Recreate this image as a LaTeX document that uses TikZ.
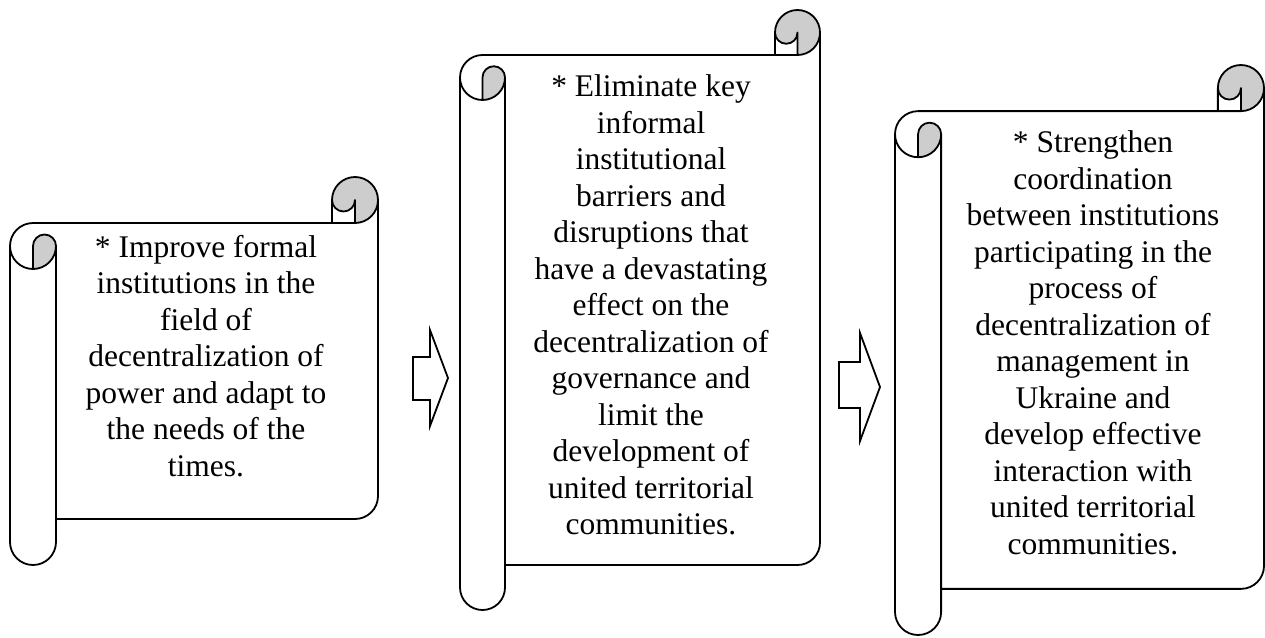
\documentclass[tikz,border=0pt]{standalone}
\usepackage{fontspec}
\setmainfont{Liberation Serif}

\definecolor{curlgrey}{RGB}{205,205,205}

\tikzset{
  outline/.style={line width=1.8pt, line join=round},
  curl/.style={fill=curlgrey},
  blockarrow/.style={line width=1.8pt, fill=white, line join=miter},
  scrolltext/.style={align=center, inner sep=0pt, font=\fontsize{31.5}{36.5}\selectfont},
}

% #1 left, #2 top, #3 right, #4 bottom (y runs downwards)
\newcommand{\drawscroll}[4]{%
  \pgfmathsetmacro{\ch}{0.125*min(#3-#1,#4-#2)}
  \pgfmathsetmacro{\chh}{\ch/2}
  \pgfmathsetmacro{\chq}{\ch/4}
  \path[fill=white] (#1,#2+\ch+\chh) arc[start angle=180, delta angle=90, radius=\chh]
    -- (#3-\ch,#2+\ch) -- (#3-\ch,#2+\chh) arc[start angle=180, delta angle=180, radius=\chh]
    -- (#3,#4-\ch-\chh) arc[start angle=0, delta angle=90, radius=\chh]
    -- (#1+\ch,#4-\ch) -- (#1+\ch,#4-\chh) arc[start angle=0, delta angle=180, radius=\chh] -- cycle;
  \fill[curl] (#1+\chh,#2+2*\ch) arc[start angle=90, delta angle=-90, radius=\chh]
    arc[start angle=0, delta angle=-180, radius=\chq] -- cycle;
  \fill[curl] (#3-\chh,#2+\ch) arc[start angle=90, delta angle=-270, radius=\chh]
    arc[start angle=180, delta angle=-180, radius=\chq] -- cycle;
  \draw[outline] (#1,#2+\ch+\chh) arc[start angle=180, delta angle=90, radius=\chh]
    -- (#3-\ch,#2+\ch) -- (#3-\ch,#2+\chh) arc[start angle=180, delta angle=180, radius=\chh]
    -- (#3,#4-\ch-\chh) arc[start angle=0, delta angle=90, radius=\chh]
    -- (#1+\ch,#4-\ch) -- (#1+\ch,#4-\chh) arc[start angle=0, delta angle=180, radius=\chh] -- cycle
    (#3-\ch,#2+\ch) -- (#3-\chh,#2+\ch) arc[start angle=90, delta angle=-90, radius=\chh]
    (#3-\chh,#2+\ch) -- (#3-\chh,#2+\chh) arc[start angle=0, delta angle=180, radius=\chq]
    (#1+\chh,#2+2*\ch) -- (#1+\chh,#2+\ch+\chh) arc[start angle=180, delta angle=180, radius=\chq]
    arc[start angle=0, delta angle=180, radius=\chh]
    (#1+\ch,#2+\ch+\chh) -- (#1+\ch,#4-\ch);
}

\begin{document}
\begin{tikzpicture}[x=1pt, y=-1pt]
\useasboundingbox (0,0) rectangle (1265,637);

\drawscroll{10}{177}{378}{565}
\drawscroll{460}{10}{820}{610}
\drawscroll{895}{65}{1264}{635}

\node[scrolltext] (formal) at (206,356) {* Improve formal\\institutions in the\\field of\\decentralization of\\power and adapt to\\the needs of the\\times.};
\node[scrolltext] (informal) at (651,305) {* Eliminate key\\informal\\institutional\\barriers and\\disruptions that\\have a devastating\\effect on the\\decentralization of\\governance and\\limit the\\development of\\united territorial\\communities.};
\node[scrolltext] (coord) at (1093,343) {* Strengthen\\coordination\\between institutions\\participating in the\\process of\\decentralization of\\management in\\Ukraine and\\develop effective\\interaction with\\united territorial\\communities.};

\draw[blockarrow] (413,357) -- (430,357) -- (430,330) -- (448,378) -- (430,426) -- (430,400) -- (413,400) -- cycle;
\draw[blockarrow] (839,362) -- (860,362) -- (860,333) -- (880,387) -- (860,441) -- (860,408) -- (839,408) -- cycle;
\end{tikzpicture}
\end{document}
